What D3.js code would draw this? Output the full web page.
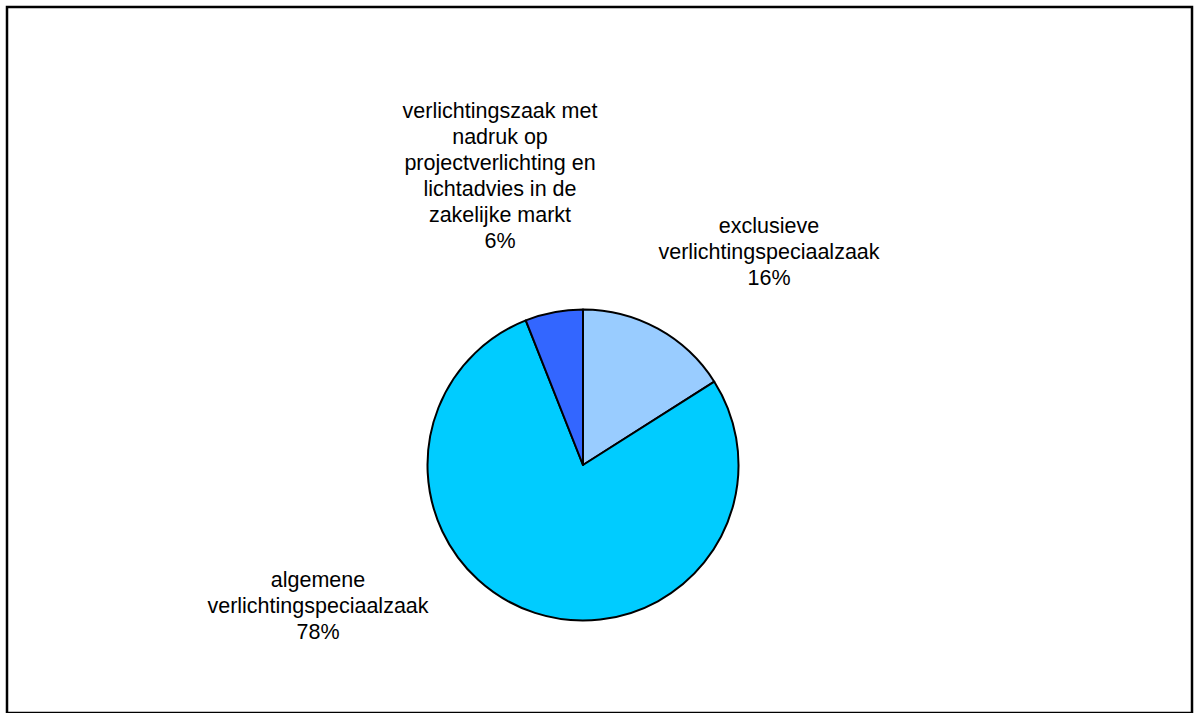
<!DOCTYPE html>
<html>
<head>
<meta charset="utf-8">
<script src="https://cdn.jsdelivr.net/npm/d3@7"></script>
<style>
  html, body { margin: 0; padding: 0; background: #fff; }
  svg { display: block; }
</style>
</head>
<body>
<svg id="chart" width="1194" height="713"></svg>
<script>
const categories = [
  "exclusieve verlichtingspeciaalzaak",
  "algemene verlichtingspeciaalzaak",
  "verlichtingszaak met nadruk op projectverlichting en lichtadvies in de zakelijke markt"
];
const values = [16, 78, 6];
const colors = ["#99CCFF", "#00CCFF", "#3366FF"];
const labelLines = [
  ["exclusieve", "verlichtingspeciaalzaak", "16%"],
  ["algemene", "verlichtingspeciaalzaak", "78%"],
  ["verlichtingszaak met", "nadruk op", "projectverlichting en", "lichtadvies in de", "zakelijke markt", "6%"]
];
// label anchor (center x, first baseline y) relative to pie center
const labelOffsets = [[186, -232], [-265, 122], [-83, -347]];

const svg = d3.select("#chart");

svg.append("rect")
  .attr("x", 7).attr("y", 7)
  .attr("width", 1185).attr("height", 706)
  .attr("fill", "none").attr("stroke", "#000").attr("stroke-width", 2.5);

const cx = 583, cy = 465, R = 155.5;
const g = svg.append("g").attr("transform", `translate(${cx},${cy})`);

const pie = d3.pie().sort(null).value(d => d)(values);
const arc = d3.arc().innerRadius(0).outerRadius(R);

g.selectAll("path.slice")
  .data(pie)
  .enter().append("path")
  .attr("class", "slice")
  .attr("d", arc)
  .attr("fill", (d, i) => colors[i])
  .attr("stroke", "#000")
  .attr("stroke-width", 2)
  .attr("stroke-linejoin", "round");

const lh = 26;
labelLines.forEach((lines, i) => {
  const t = g.append("text")
    .attr("text-anchor", "middle")
    .attr("font-family", "Liberation Sans, Arial, sans-serif")
    .attr("font-size", 21.5)
    .attr("fill", "#000");
  lines.forEach((ln, j) => {
    t.append("tspan")
      .attr("x", labelOffsets[i][0])
      .attr("y", labelOffsets[i][1] + j * lh)
      .text(ln);
  });
});
</script>
</body>
</html>
